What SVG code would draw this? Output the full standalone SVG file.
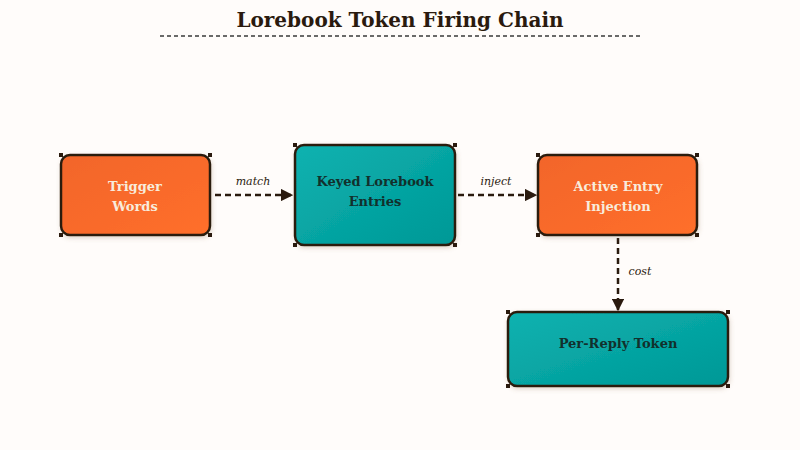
<svg xmlns="http://www.w3.org/2000/svg" width="800" height="450" viewBox="0 0 800 450">
<defs>
<linearGradient id="gO" x1="0" y1="0" x2="1" y2="1"><stop offset="0" stop-color="#f2652b"/><stop offset="1" stop-color="#ff6f2a"/></linearGradient>
<linearGradient id="gT" x1="0" y1="0" x2="1" y2="1"><stop offset="0" stop-color="#0db2b0"/><stop offset="1" stop-color="#009896"/></linearGradient>
<marker id="ah" viewBox="0 0 10 10" refX="9" refY="5" markerWidth="5" markerHeight="5" orient="auto" markerUnits="strokeWidth"><path d="M0,0 L10,5 L0,10 Z" fill="#2a1a0e"/></marker>
<filter id="sh" x="-10%" y="-10%" width="130%" height="130%"><feDropShadow dx="1" dy="2" stdDeviation="2" flood-color="#8a6a4a" flood-opacity="0.25"/></filter>
</defs>
<style>
.box{stroke:#2a1a0e;stroke-width:2.5;filter:url(#sh)}
.o{fill:url(#gO)}
.t{fill:url(#gT)}
.c{fill:#2a1a0e}
.lbl{font-family:"DejaVu Serif","Liberation Serif",serif;font-weight:bold;font-size:13px;text-anchor:middle}
.lo{fill:#f8ecdc}
.lt{fill:#12302c}
.edge{fill:none;stroke:#2a1a0e;stroke-width:2.5;stroke-dasharray:6 4;marker-end:url(#ah)}
.el{font-family:"DejaVu Serif","Liberation Serif",serif;font-style:italic;font-size:11px;fill:#2a1a0e;text-anchor:middle}
</style>
<rect width="800" height="450" fill="#fffcfa"/>
<text x="400" y="27" text-anchor="middle" font-family="DejaVu Serif, Liberation Serif, serif" font-weight="bold" font-size="20" fill="#2a1a0e">Lorebook Token Firing Chain</text>
<line x1="160" y1="36" x2="640" y2="36" stroke="#3a3a3a" stroke-width="1.5" stroke-dasharray="4 3"/>
<g id="edges">
<line class="edge" x1="215" y1="195" x2="292" y2="195"/>
<text class="el" x="253" y="185">match</text>
<line class="edge" x1="458" y1="195" x2="536" y2="195"/>
<text class="el" x="496" y="185">inject</text>
<line class="edge" x1="618" y1="238" x2="618" y2="310"/>
<text class="el" x="640" y="275">cost</text>
</g>
<g id="trigger">
<rect class="box o" x="61" y="155" width="149" height="80" rx="9"/>
<rect class="c" x="59" y="153" width="4" height="4"/><rect class="c" x="208" y="153" width="4" height="4"/><rect class="c" x="59" y="233" width="4" height="4"/><rect class="c" x="208" y="233" width="4" height="4"/>
<text class="lbl lo" x="135" y="191">Trigger</text><text class="lbl lo" x="135" y="211">Words</text>
</g>
<g id="keyed">
<rect class="box t" x="295" y="145" width="160" height="100" rx="9"/>
<rect class="c" x="293" y="143" width="4" height="4"/><rect class="c" x="453" y="143" width="4" height="4"/><rect class="c" x="293" y="243" width="4" height="4"/><rect class="c" x="453" y="243" width="4" height="4"/>
<text class="lbl lt" x="375" y="186">Keyed Lorebook</text><text class="lbl lt" x="375" y="206">Entries</text>
</g>
<g id="active">
<rect class="box o" x="538" y="155" width="159" height="80" rx="9"/>
<rect class="c" x="536" y="153" width="4" height="4"/><rect class="c" x="695" y="153" width="4" height="4"/><rect class="c" x="536" y="233" width="4" height="4"/><rect class="c" x="695" y="233" width="4" height="4"/>
<text class="lbl lo" x="618" y="191">Active Entry</text><text class="lbl lo" x="618" y="211">Injection</text>
</g>
<g id="perreply">
<rect class="box t" x="508" y="312" width="220" height="74" rx="9"/>
<rect class="c" x="506" y="310" width="4" height="4"/><rect class="c" x="726" y="310" width="4" height="4"/><rect class="c" x="506" y="384" width="4" height="4"/><rect class="c" x="726" y="384" width="4" height="4"/>
<text class="lbl lt" x="618" y="348">Per-Reply Token</text>
</g>
</svg>
